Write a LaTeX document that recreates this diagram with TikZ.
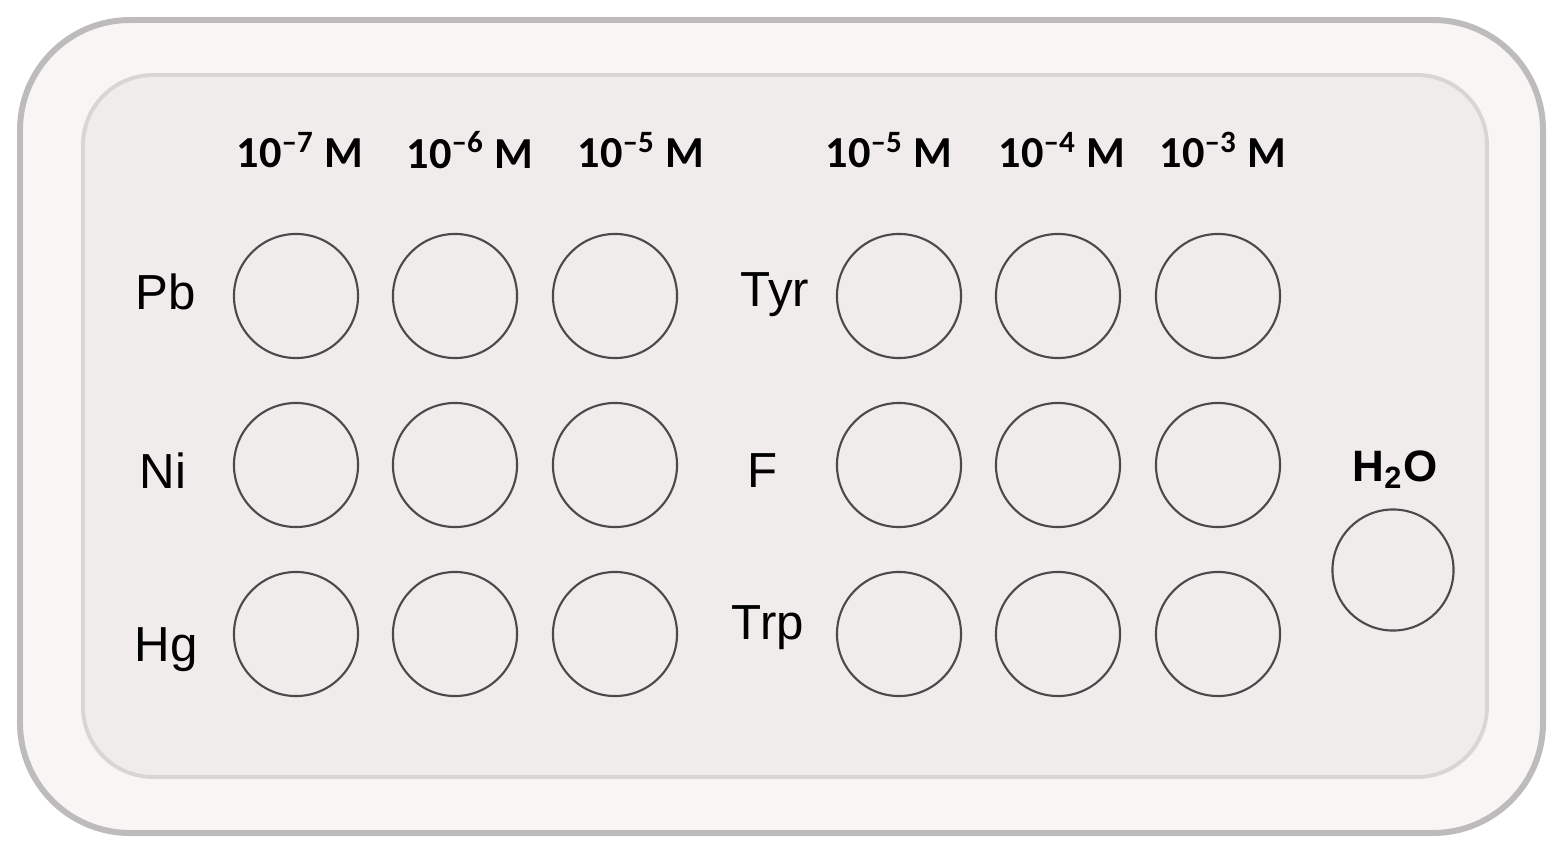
\documentclass[tikz,border=0pt]{standalone}
\usepackage{fontspec}
\setmainfont{Liberation Sans}
\newfontfamily\headfont{Carlito}

\definecolor{platefill}{HTML}{F8F5F5}
\definecolor{plateline}{HTML}{BDBBBB}
\definecolor{wellbed}{HTML}{F0ECEC}
\definecolor{bedline}{HTML}{D9D5D5}
\definecolor{wellline}{HTML}{4A4A4A}

\tikzset{
  well/.style={draw=wellline, circle, line width=0.6pt, minimum size=1.24cm, inner sep=0pt},
  conc/.style={font=\headfont\bfseries\fontsize{12.6}{14}\selectfont, inner sep=0pt},
  ion/.style={font=\fontsize{14}{16}\selectfont, inner sep=0pt}
}

\begin{document}
\begin{tikzpicture}[x=0.01cm, y=-0.01cm]
\useasboundingbox (0,0) rectangle (1560,854);

% plate and bed
\draw[fill=platefill, draw=plateline, line width=1.7pt, rounded corners=1.1cm] (20,20) rectangle (1543,833);
\draw[fill=wellbed, draw=bedline, line width=1.1pt, rounded corners=0.7cm] (83,75) rectangle (1487,777);

% concentrations
\node[conc] (c1) at (300,150) {10\textsuperscript{–7} M};
\node[conc] (c2) at (470,150) {10\textsuperscript{–6} M};
\node[conc] (c3) at (641,150) {10\textsuperscript{–5} M};
\node[conc] (c4) at (889,150) {10\textsuperscript{–5} M};
\node[conc] (c5) at (1062,150) {10\textsuperscript{–4} M};
\node[conc] (c6) at (1223,150) {10\textsuperscript{–3} M};

% row labels
\node[ion] (pb) at (166,292) {Pb};
\node[ion] (ni) at (163,471) {Ni};
\node[ion] (hg) at (166,650) {Hg};
\node[ion] (tyr) at (775,295) {Tyr};
\node[ion] (f) at (763,471) {F};
\node[ion] (trp) at (768,628) {Trp};

% wells, metals
\node[well] (pb1) at (296,296) {};
\node[well] (pb2) at (455,296) {};
\node[well] (pb3) at (615,296) {};
\node[well] (ni1) at (296,465) {};
\node[well] (ni2) at (455,465) {};
\node[well] (ni3) at (615,465) {};
\node[well] (hg1) at (296,634) {};
\node[well] (hg2) at (455,634) {};
\node[well] (hg3) at (615,634) {};

% wells, anions and amino acids
\node[well] (tyr1) at (899,296) {};
\node[well] (tyr2) at (1058,296) {};
\node[well] (tyr3) at (1218,296) {};
\node[well] (f1) at (899,465) {};
\node[well] (f2) at (1058,465) {};
\node[well] (f3) at (1218,465) {};
\node[well] (trp1) at (899,634) {};
\node[well] (trp2) at (1058,634) {};
\node[well] (trp3) at (1218,634) {};

% blank
\node[font=\bfseries\fontsize{12.5}{14}\selectfont, inner sep=0pt] (h2o) at (1395,470) {H\textsubscript{2}O};
\node[well, minimum size=1.21cm] (blank) at (1393,570) {};

\end{tikzpicture}
\end{document}
